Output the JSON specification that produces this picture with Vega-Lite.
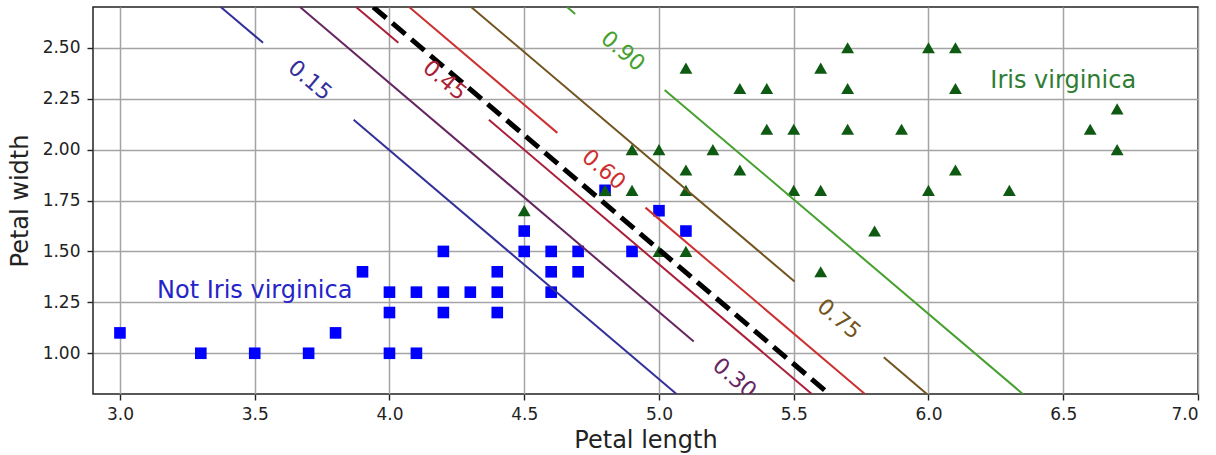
{
  "$schema": "https://vega.github.io/schema/vega-lite/v6.json",
  "width": 1105,
  "height": 387,
  "autosize": {"type": "none"},
  "padding": {"left": 93, "top": 7, "right": 18, "bottom": 61},
  "background": "white",
  "config": {
    "font": "DejaVu Sans",
    "view": {"stroke": "#222222", "strokeWidth": 1.5},
    "axis": {
      "domain": false,
      "grid": true,
      "gridColor": "#a4a4a4",
      "gridWidth": 1.5,
      "tickColor": "#222222",
      "tickSize": 6,
      "tickWidth": 1.4,
      "labelFont": "DejaVu Sans",
      "labelFontSize": 17,
      "labelColor": "#222222",
      "titleFont": "DejaVu Sans",
      "titleFontSize": 24,
      "titleFontWeight": "normal",
      "titleColor": "#222222"
    }
  },
  "datasets": {
    "pts": [
      {"x": 3.0, "y": 1.1, "cls": "0"}, {"x": 3.3, "y": 1.0, "cls": "0"}, {"x": 3.5, "y": 1.0, "cls": "0"},
      {"x": 3.7, "y": 1.0, "cls": "0"}, {"x": 3.8, "y": 1.1, "cls": "0"}, {"x": 3.9, "y": 1.4, "cls": "0"},
      {"x": 4.0, "y": 1.3, "cls": "0"}, {"x": 4.0, "y": 1.2, "cls": "0"}, {"x": 4.0, "y": 1.0, "cls": "0"},
      {"x": 4.1, "y": 1.3, "cls": "0"}, {"x": 4.1, "y": 1.0, "cls": "0"},
      {"x": 4.2, "y": 1.5, "cls": "0"}, {"x": 4.2, "y": 1.3, "cls": "0"}, {"x": 4.2, "y": 1.2, "cls": "0"},
      {"x": 4.3, "y": 1.3, "cls": "0"},
      {"x": 4.4, "y": 1.4, "cls": "0"}, {"x": 4.4, "y": 1.3, "cls": "0"}, {"x": 4.4, "y": 1.2, "cls": "0"},
      {"x": 4.5, "y": 1.6, "cls": "0"}, {"x": 4.5, "y": 1.5, "cls": "0"},
      {"x": 4.6, "y": 1.5, "cls": "0"}, {"x": 4.6, "y": 1.4, "cls": "0"}, {"x": 4.6, "y": 1.3, "cls": "0"},
      {"x": 4.7, "y": 1.5, "cls": "0"}, {"x": 4.7, "y": 1.4, "cls": "0"},
      {"x": 4.8, "y": 1.8, "cls": "0"}, {"x": 4.9, "y": 1.5, "cls": "0"}, {"x": 5.0, "y": 1.7, "cls": "0"},
      {"x": 5.1, "y": 1.6, "cls": "0"},
      {"x": 4.5, "y": 1.7, "cls": "1"}, {"x": 4.8, "y": 1.8, "cls": "1"}, {"x": 4.9, "y": 1.8, "cls": "1"},
      {"x": 5.1, "y": 1.8, "cls": "1"}, {"x": 4.9, "y": 2.0, "cls": "1"}, {"x": 5.0, "y": 2.0, "cls": "1"},
      {"x": 5.2, "y": 2.0, "cls": "1"}, {"x": 5.1, "y": 1.9, "cls": "1"}, {"x": 5.3, "y": 1.9, "cls": "1"},
      {"x": 5.1, "y": 2.4, "cls": "1"}, {"x": 5.3, "y": 2.3, "cls": "1"}, {"x": 5.4, "y": 2.3, "cls": "1"},
      {"x": 5.4, "y": 2.1, "cls": "1"}, {"x": 5.0, "y": 1.5, "cls": "1"}, {"x": 5.1, "y": 1.5, "cls": "1"},
      {"x": 5.7, "y": 2.5, "cls": "1"}, {"x": 6.0, "y": 2.5, "cls": "1"}, {"x": 6.1, "y": 2.5, "cls": "1"},
      {"x": 5.6, "y": 2.4, "cls": "1"}, {"x": 5.7, "y": 2.3, "cls": "1"}, {"x": 6.1, "y": 2.3, "cls": "1"},
      {"x": 5.5, "y": 2.1, "cls": "1"}, {"x": 5.7, "y": 2.1, "cls": "1"}, {"x": 5.9, "y": 2.1, "cls": "1"},
      {"x": 6.1, "y": 1.9, "cls": "1"}, {"x": 5.5, "y": 1.8, "cls": "1"}, {"x": 5.6, "y": 1.8, "cls": "1"},
      {"x": 6.0, "y": 1.8, "cls": "1"}, {"x": 6.3, "y": 1.8, "cls": "1"}, {"x": 5.8, "y": 1.6, "cls": "1"},
      {"x": 5.6, "y": 1.4, "cls": "1"}, {"x": 6.7, "y": 2.2, "cls": "1"}, {"x": 6.6, "y": 2.1, "cls": "1"},
      {"x": 6.7, "y": 2.0, "cls": "1"}
    ],
    "contours": [
      {"lvl": "0.15", "seg": "a", "x": 3.374, "y": 2.7}, {"lvl": "0.15", "seg": "a", "x": 3.531, "y": 2.524},
      {"lvl": "0.15", "seg": "b", "x": 3.867, "y": 2.146}, {"lvl": "0.15", "seg": "b", "x": 5.065, "y": 0.8},
      {"lvl": "0.30", "seg": "c", "x": 3.668, "y": 2.7}, {"lvl": "0.30", "seg": "c", "x": 5.129, "y": 1.058},
      {"lvl": "0.45", "seg": "d", "x": 3.876, "y": 2.7}, {"lvl": "0.45", "seg": "d", "x": 4.033, "y": 2.524},
      {"lvl": "0.45", "seg": "e", "x": 4.369, "y": 2.146}, {"lvl": "0.45", "seg": "e", "x": 5.567, "y": 0.8},
      {"lvl": "0.60", "seg": "f", "x": 4.073, "y": 2.7}, {"lvl": "0.60", "seg": "f", "x": 4.623, "y": 2.082},
      {"lvl": "0.60", "seg": "g", "x": 4.950, "y": 1.715}, {"lvl": "0.60", "seg": "g", "x": 5.764, "y": 0.8},
      {"lvl": "0.75", "seg": "h", "x": 4.303, "y": 2.7}, {"lvl": "0.75", "seg": "h", "x": 5.503, "y": 1.352},
      {"lvl": "0.75", "seg": "i", "x": 5.834, "y": 0.98}, {"lvl": "0.75", "seg": "i", "x": 5.994, "y": 0.8},
      {"lvl": "0.90", "seg": "j", "x": 4.659, "y": 2.7}, {"lvl": "0.90", "seg": "j", "x": 4.689, "y": 2.666},
      {"lvl": "0.90", "seg": "k", "x": 5.021, "y": 2.293}, {"lvl": "0.90", "seg": "k", "x": 6.350, "y": 0.8}
    ],
    "boundary": [
      {"x": 3.940, "y": 2.7}, {"x": 5.631, "y": 0.8}
    ],
    "clabels": [
      {"lvl": "0.15", "x": 3.705, "y": 2.34},
      {"lvl": "0.30", "x": 5.28, "y": 0.878},
      {"lvl": "0.45", "x": 4.205, "y": 2.34},
      {"lvl": "0.60", "x": 4.795, "y": 1.902},
      {"lvl": "0.75", "x": 5.668, "y": 1.168},
      {"lvl": "0.90", "x": 4.866, "y": 2.483}
    ],
    "notes": [
      {"x": 3.5, "y": 1.27, "t": "Not Iris virginica", "c": "not"},
      {"x": 6.5, "y": 2.3, "t": "Iris virginica", "c": "vir"}
    ]
  },
  "encoding": {
    "x": {
      "field": "x", "type": "quantitative",
      "scale": {"domain": [2.9, 7.0], "nice": false, "zero": false},
      "axis": {"title": "Petal length", "values": [3.0, 3.5, 4.0, 4.5, 5.0, 5.5, 6.0, 6.5, 7.0], "format": ".1f", "labelPadding": 6, "titlePadding": 6}
    },
    "y": {
      "field": "y", "type": "quantitative",
      "scale": {"domain": [0.8, 2.7], "nice": false, "zero": false},
      "axis": {"title": "Petal width", "values": [1.0, 1.25, 1.5, 1.75, 2.0, 2.25, 2.5], "format": ".2f", "labelPadding": 7, "titlePadding": 10}
    }
  },
  "layer": [
    {
      "data": {"name": "pts"},
      "mark": {"type": "point", "filled": true, "opacity": 1, "clip": true},
      "encoding": {
        "shape": {"field": "cls", "type": "nominal", "scale": {"domain": ["0", "1"], "range": ["square", "triangle-up"]}, "legend": null},
        "color": {"field": "cls", "type": "nominal", "scale": {"domain": ["0", "1"], "range": ["#0000ff", "#0e5a12"]}, "legend": null},
        "size": {"field": "cls", "type": "nominal", "scale": {"domain": ["0", "1"], "range": [135, 165]}, "legend": null}
      }
    },
    {
      "data": {"name": "contours"},
      "mark": {"type": "line", "strokeWidth": 2, "clip": true},
      "encoding": {
        "color": {"field": "lvl", "type": "nominal", "scale": {"domain": ["0.15", "0.30", "0.45", "0.60", "0.75", "0.90"], "range": ["#33309a", "#652660", "#aa1e38", "#cc3030", "#725420", "#45a02e"]}, "legend": null},
        "detail": {"field": "seg", "type": "nominal"}
      }
    },
    {
      "data": {"name": "boundary"},
      "mark": {"type": "line", "color": "black", "strokeWidth": 5, "strokeDash": [17, 8], "clip": true},
      "encoding": {}
    },
    {
      "data": {"name": "clabels"},
      "mark": {"type": "text", "angle": 40, "fontSize": 22, "align": "center", "baseline": "middle", "clip": true},
      "encoding": {
        "text": {"field": "lvl", "type": "nominal"},
        "color": {"field": "lvl", "type": "nominal", "scale": {"domain": ["0.15", "0.30", "0.45", "0.60", "0.75", "0.90"], "range": ["#33309a", "#652660", "#aa1e38", "#cc3030", "#725420", "#45a02e"]}, "legend": null}
      }
    },
    {
      "data": {"name": "notes"},
      "mark": {"type": "text", "fontSize": 24, "align": "center", "baseline": "alphabetic"},
      "encoding": {
        "text": {"field": "t", "type": "nominal"},
        "color": {"field": "c", "type": "nominal", "scale": {"domain": ["not", "vir"], "range": ["#2424c8", "#2e7d32"]}, "legend": null}
      }
    }
  ],
  "resolve": {"scale": {"color": "independent", "shape": "independent", "size": "independent"}}
}
